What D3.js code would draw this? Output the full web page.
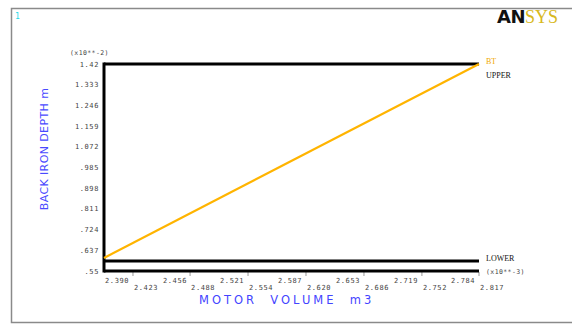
<!DOCTYPE html>
<html>
<head>
<meta charset="utf-8">
<script src="https://cdn.jsdelivr.net/npm/d3@7"></script>
<style>
  html, body { margin: 0; padding: 0; background: #fff; }
  svg { display: block; }
</style>
</head>
<body>
<svg id="chart" width="572" height="325"></svg>
<script>
// Design variable trace: back iron depth (x10**-2 m) versus motor volume (x10**-3 m3)
const xTicks = [2.390, 2.423, 2.456, 2.488, 2.521, 2.554, 2.587, 2.620, 2.653, 2.686, 2.719, 2.752, 2.784, 2.817];
const yTicks = [0.55, 0.637, 0.724, 0.811, 0.898, 0.985, 1.072, 1.159, 1.246, 1.333, 1.42];
const yTickLabels = [".55", ".637", ".724", ".811", ".898", ".985", "1.072", "1.159", "1.246", "1.333", "1.42"];
const xTickLabels = ["2.390", "2.423", "2.456", "2.488", "2.521", "2.554", "2.587", "2.620", "2.653", "2.686", "2.719", "2.752", "2.784", "2.817"];
const btVolume = [2.390, 2.817];
const btDepth = [0.605, 1.42];
const upperLimit = 1.42;
const lowerLimit = 0.592;

const svg = d3.select("#chart");
const margin = { left: 104, right: 479, top: 64, bottom: 271 };

const x = d3.scaleLinear().domain([xTicks[0], xTicks[xTicks.length - 1]]).range([margin.left, margin.right]);
const y = d3.scaleLinear().domain([yTicks[0], yTicks[yTicks.length - 1]]).range([margin.bottom, margin.top]);

const tickFont = "'DejaVu Sans Mono', monospace";
const labelFont = "'Liberation Serif', serif";

// outer window frame
svg.append("rect")
  .attr("x", 11.5).attr("y", 8.5).attr("width", 600).attr("height", 314)
  .attr("fill", "none").attr("stroke", "#8a8a8a").attr("stroke-width", 1.5);

// window number
svg.append("text").attr("x", 15).attr("y", 19)
  .attr("font-family", tickFont).attr("font-size", 8).attr("fill", "#22d8e8").text("1");

// logo
const logo = svg.append("text").attr("x", 497).attr("y", 23)
  .attr("font-size", 18);
logo.append("tspan").attr("font-family", "'DejaVu Sans', sans-serif").attr("font-weight", "bold")
  .attr("fill", "#111").attr("letter-spacing", -0.5).text("AN");
logo.append("tspan").attr("font-family", labelFont).attr("fill", "#d8b820").text("SYS");

// y-axis tick labels
svg.append("g").selectAll("text").data(yTicks).join("text")
  .attr("x", 99).attr("y", d => y(d) + 2.5)
  .attr("text-anchor", "end")
  .attr("font-family", tickFont).attr("font-size", 7).attr("letter-spacing", 0.6)
  .attr("fill", "#444")
  .text((d, i) => yTickLabels[i]);

// y multiplier
svg.append("text").attr("x", 70).attr("y", 55)
  .attr("font-family", tickFont).attr("font-size", 6.5).attr("letter-spacing", 0.4).attr("fill", "#444")
  .text("(x10**-2)");

// x-axis tick labels, alternating rows, left aligned at tick
svg.append("g").selectAll("text").data(xTicks).join("text")
  .attr("x", d => x(d) + 1)
  .attr("y", (d, i) => i % 2 === 0 ? 283 : 290)
  .attr("font-family", tickFont).attr("font-size", 7).attr("letter-spacing", 0.6)
  .attr("fill", "#444")
  .text((d, i) => xTickLabels[i]);

// x tick marks
svg.append("g").selectAll("line").data(xTicks.filter((d, i) => i % 2 === 1)).join("line")
  .attr("x1", d => x(d)).attr("x2", d => x(d))
  .attr("y1", margin.bottom + 1).attr("y2", margin.bottom + 5)
  .attr("stroke", "#999").attr("stroke-width", 1);

// x multiplier
svg.append("text").attr("x", 486).attr("y", 274)
  .attr("font-family", tickFont).attr("font-size", 6.5).attr("letter-spacing", 0.4).attr("fill", "#444")
  .text("(x10**-3)");

// axis titles
svg.append("text").attr("x", 199).attr("y", 304)
  .attr("xml:space", "preserve").style("white-space", "pre")
  .attr("font-family", "'DejaVu Sans', sans-serif").attr("font-size", 11.5).attr("letter-spacing", 3)
  .attr("fill", "#4444ff").text("MOTOR  VOLUME  m3");

svg.append("text")
  .attr("transform", `translate(48,${149}) rotate(-90)`)
  .attr("text-anchor", "middle")
  .attr("font-family", "'DejaVu Sans', sans-serif").attr("font-size", 11).attr("letter-spacing", 0.4)
  .attr("fill", "#4a4aff").text("BACK IRON DEPTH m");

// axis frame lines
svg.append("line").attr("x1", margin.left).attr("x2", margin.left)
  .attr("y1", margin.top - 1.5).attr("y2", margin.bottom + 1.5)
  .attr("stroke", "#000").attr("stroke-width", 3);
svg.append("line").attr("x1", margin.left).attr("x2", margin.right)
  .attr("y1", margin.bottom).attr("y2", margin.bottom)
  .attr("stroke", "#000").attr("stroke-width", 3);

// limit lines
svg.append("line").attr("x1", margin.left).attr("x2", margin.right)
  .attr("y1", y(upperLimit)).attr("y2", y(upperLimit))
  .attr("stroke", "#000").attr("stroke-width", 3);
svg.append("line").attr("x1", margin.left).attr("x2", margin.right)
  .attr("y1", y(lowerLimit)).attr("y2", y(lowerLimit))
  .attr("stroke", "#000").attr("stroke-width", 3);

// BT trace
const line = d3.line().x(d => x(d[0])).y(d => y(d[1]));
svg.append("path")
  .datum(btVolume.map((v, i) => [v, btDepth[i]]))
  .attr("d", line)
  .attr("fill", "none").attr("stroke", "#ffb400").attr("stroke-width", 2.2);

// legend labels at line ends
svg.append("text").attr("x", 486).attr("y", 64)
  .attr("font-family", labelFont).attr("font-size", 8).attr("fill", "#f0a800").text("BT");
svg.append("text").attr("x", 486).attr("y", 78)
  .attr("font-family", labelFont).attr("font-size", 8).attr("fill", "#111").text("UPPER");
svg.append("text").attr("x", 486).attr("y", 261)
  .attr("font-family", labelFont).attr("font-size", 8).attr("fill", "#111").text("LOWER");
</script>
</body>
</html>
